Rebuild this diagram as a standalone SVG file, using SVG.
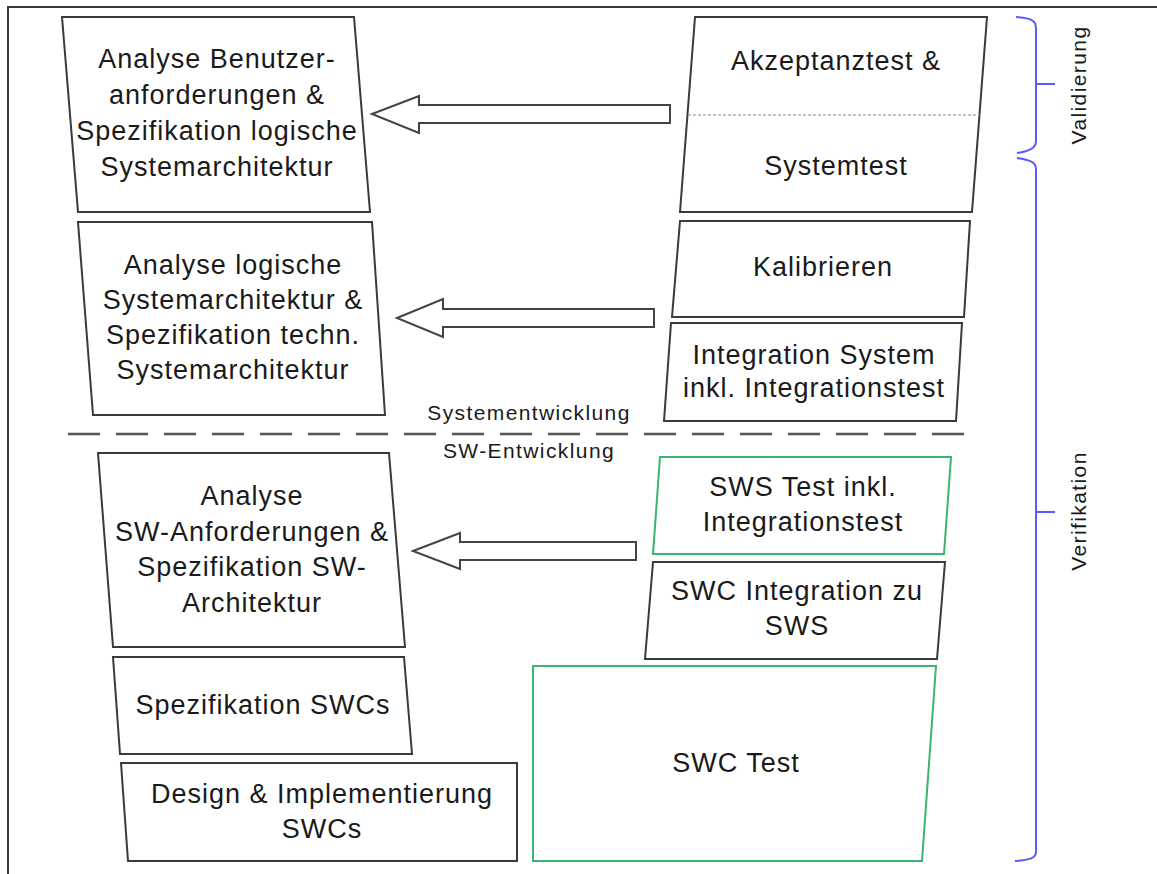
<svg xmlns="http://www.w3.org/2000/svg" width="1157" height="874" viewBox="0 0 1157 874">
  <defs>
    <style>
      .box { fill: #ffffff; stroke: #3a3a3a; stroke-width: 2; stroke-linejoin: miter; }
      .box-green { fill: #ffffff; stroke: #3cb36e; stroke-width: 2; }
      .lbl { font-family: "Liberation Sans", Arial, sans-serif; font-size: 27px; letter-spacing: 1px; fill: #1a1a1a; text-anchor: middle; }
      .small { font-family: "Liberation Sans", Arial, sans-serif; font-size: 21px; letter-spacing: 1.4px; fill: #1a1a1a; text-anchor: middle; }
      .arrow { fill: #ffffff; stroke: #444444; stroke-width: 2; stroke-linejoin: miter; }
      .brace { fill: none; stroke: #5a5aff; stroke-width: 2; }
      .divider { fill: none; stroke: #555555; stroke-width: 2.5; stroke-dasharray: 32 16; }
      .inner-dash { fill: none; stroke: #8a8a8a; stroke-width: 1; stroke-dasharray: 3 2; }
    </style>
  </defs>

  <rect width="1157" height="874" fill="#ffffff"/>

  <!-- outer frame -->
  <rect x="8" y="7" width="1170" height="890" fill="none" stroke="#3a3a3a" stroke-width="2"/>

  <!-- left branch: specification -->
  <g id="node-benutzeranforderungen">
    <polygon class="box" points="62,17 354,17 370,212 78,212"/>
    <text class="lbl" x="217" y="68">Analyse Benutzer-</text>
    <text class="lbl" x="217" y="104">anforderungen &amp;</text>
    <text class="lbl" x="217" y="140">Spezifikation logische</text>
    <text class="lbl" x="217" y="176">Systemarchitektur</text>
  </g>

  <g id="node-logische-systemarchitektur">
    <polygon class="box" points="78,222 372,222 385,415 93,415"/>
    <text class="lbl" x="233" y="274">Analyse logische</text>
    <text class="lbl" x="233" y="309">Systemarchitektur &amp;</text>
    <text class="lbl" x="233" y="344">Spezifikation techn.</text>
    <text class="lbl" x="233" y="379">Systemarchitektur</text>
  </g>

  <g id="node-sw-anforderungen">
    <polygon class="box" points="98,453 389,453 405,647 113,647"/>
    <text class="lbl" x="252" y="505">Analyse</text>
    <text class="lbl" x="252" y="541">SW-Anforderungen &amp;</text>
    <text class="lbl" x="252" y="576">Spezifikation SW-</text>
    <text class="lbl" x="252" y="612">Architektur</text>
  </g>

  <g id="node-spezifikation-swcs">
    <polygon class="box" points="113,657 404,657 412,754 120,754"/>
    <text class="lbl" x="263" y="714">Spezifikation SWCs</text>
  </g>

  <g id="node-design-implementierung">
    <polygon class="box" points="121,763 517,763 517,861 128,861"/>
    <text class="lbl" x="322" y="803">Design &amp; Implementierung</text>
    <text class="lbl" x="322" y="838">SWCs</text>
  </g>

  <!-- right branch: integration and test -->
  <g id="node-akzeptanztest-systemtest">
    <polygon class="box" points="695,17 987,17 972,212 680,212"/>
    <line class="inner-dash" x1="688" y1="115" x2="980" y2="115"/>
    <text class="lbl" x="836" y="70">Akzeptanztest &amp;</text>
    <text class="lbl" x="836" y="175">Systemtest</text>
  </g>

  <g id="node-kalibrieren">
    <polygon class="box" points="680,221 970,221 964,317 672,317"/>
    <text class="lbl" x="823" y="276">Kalibrieren</text>
  </g>

  <g id="node-integration-system">
    <polygon class="box" points="671,323 962,323 956,421 664,421"/>
    <text class="lbl" x="814" y="364">Integration System</text>
    <text class="lbl" x="814" y="397">inkl. Integrationstest</text>
  </g>

  <g id="node-sws-test">
    <polygon class="box-green" points="660,457 951,457 944,554 653,554"/>
    <text class="lbl" x="803" y="496">SWS Test inkl.</text>
    <text class="lbl" x="803" y="531">Integrationstest</text>
  </g>

  <g id="node-swc-integration">
    <polygon class="box" points="653,562 945,562 937,659 645,659"/>
    <text class="lbl" x="797" y="600">SWC Integration zu</text>
    <text class="lbl" x="797" y="635">SWS</text>
  </g>

  <g id="node-swc-test">
    <polygon class="box-green" points="533,666 936,666 922,861 533,861"/>
    <text class="lbl" x="736" y="772">SWC Test</text>
  </g>

  <!-- block arrows from the test side back to the specification side -->
  <g id="connectors">
    <polygon class="arrow" points="372,114 419,96 419,105 670,105 670,123 419,123 419,133"/>
    <polygon class="arrow" points="397,318 443,299 443,309 654,309 654,327 443,327 443,337"/>
    <polygon class="arrow" points="413,551 460,533 460,542 636,542 636,560 460,560 460,569"/>
  </g>

  <!-- level separator -->
  <g id="separator">
    <line class="divider" x1="68" y1="434" x2="964" y2="434"/>
    <text class="small" x="529" y="420">Systementwicklung</text>
    <text class="small" x="529" y="458">SW-Entwicklung</text>
  </g>

  <!-- scope braces -->
  <g id="brace-validierung">
    <path class="brace" d="M1016,17 C1030,18 1036,20 1036,28 V141 C1036,148 1030,151 1017,153"/>
    <line class="brace" x1="1036" y1="84" x2="1055" y2="84"/>
    <text class="small" transform="translate(1086,85) rotate(-90)">Validierung</text>
  </g>

  <g id="brace-verifikation">
    <path class="brace" d="M1017,158 C1030,160 1036,162 1036,169 V852 C1036,858 1030,860 1015,861"/>
    <line class="brace" x1="1036" y1="512" x2="1055" y2="512"/>
    <text class="small" transform="translate(1086,511) rotate(-90)">Verifikation</text>
  </g>
</svg>
